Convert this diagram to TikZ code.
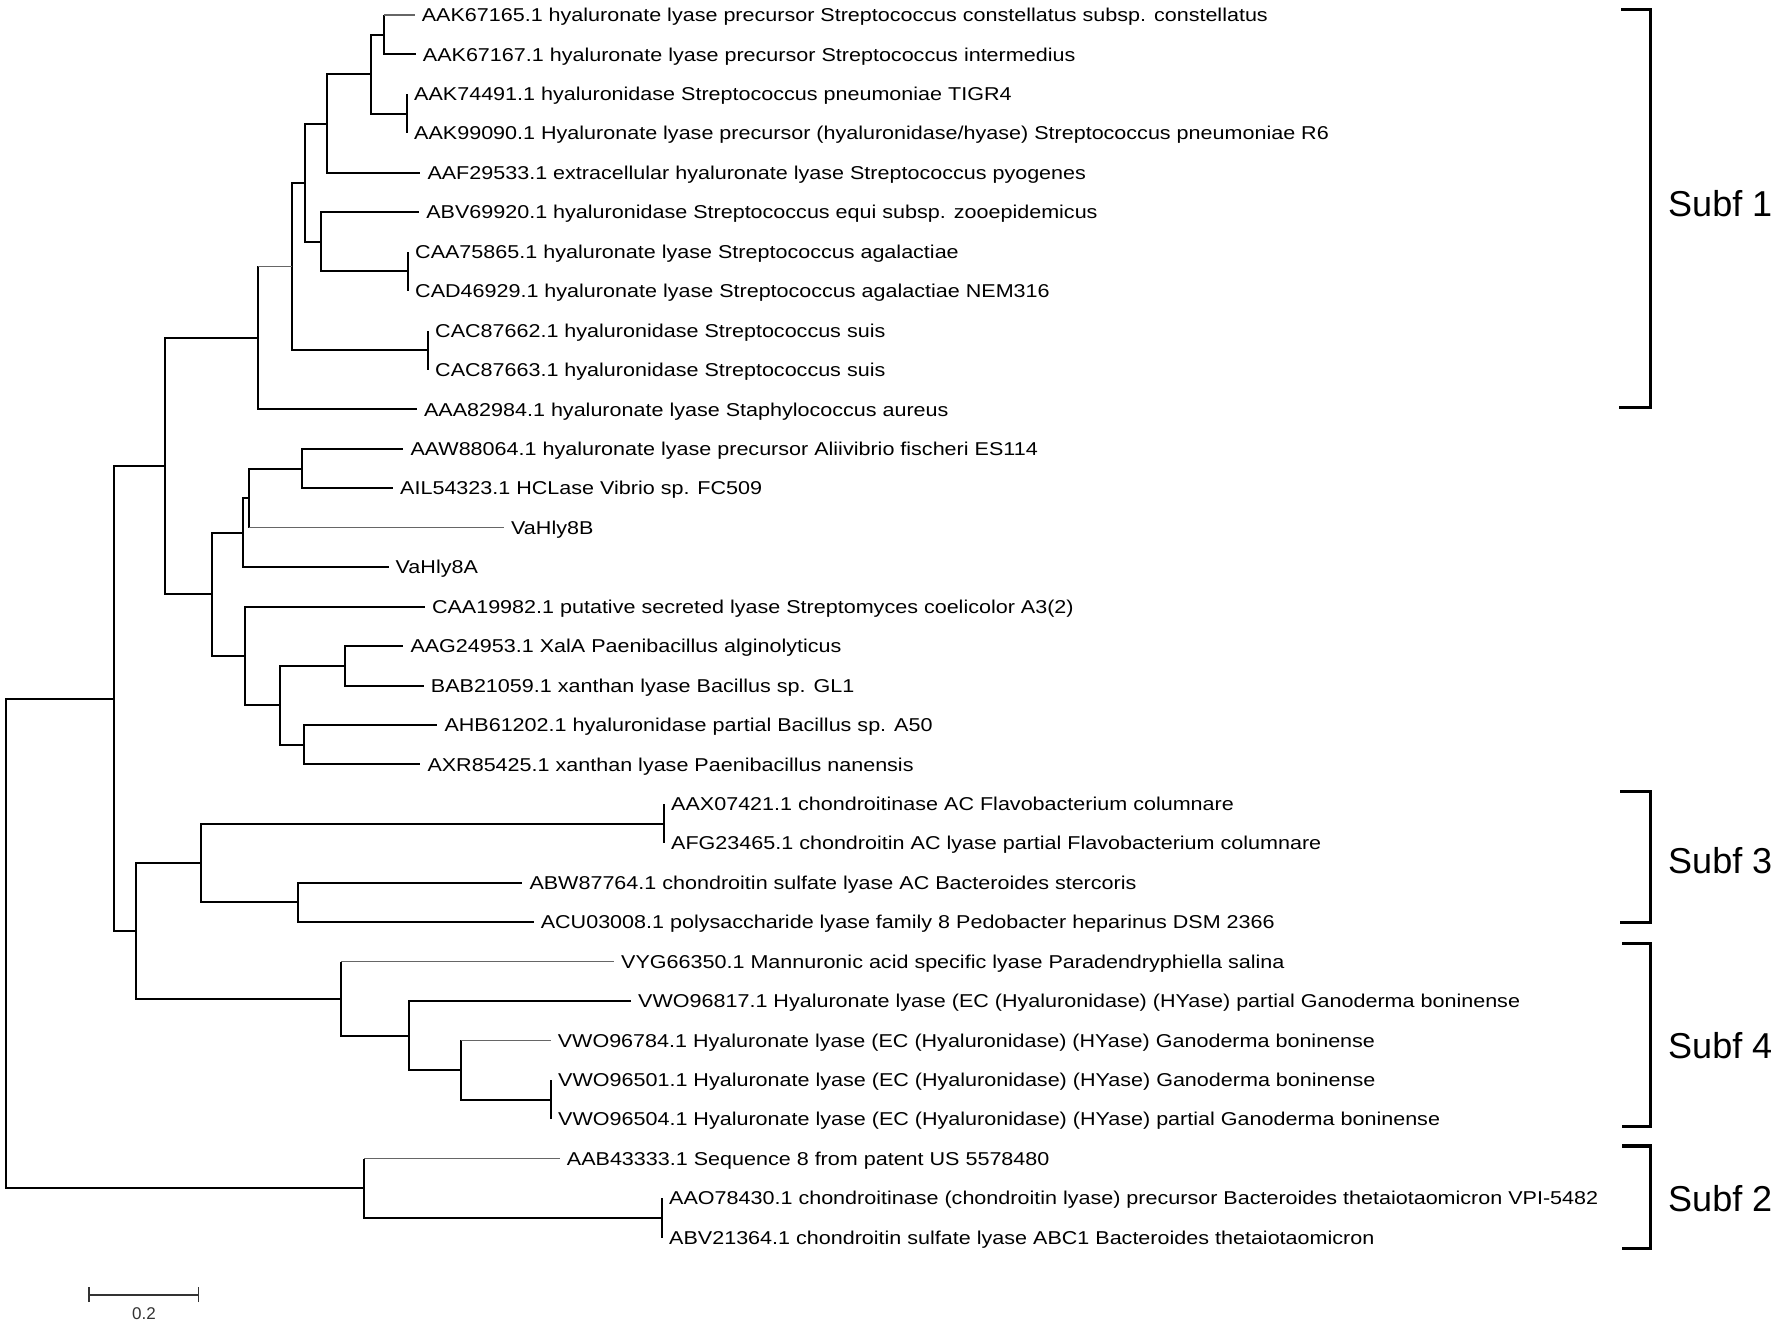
\documentclass[tikz,border=0pt]{standalone}
\usepackage{fontspec}
\setmainfont{Liberation Sans}
\newfontfamily\leaffont[FakeStretch=1.158]{Liberation Sans}
\begin{document}
\begin{tikzpicture}[x=1pt,y=-1pt,
  br/.style={line width=2pt, line join=miter, black},
  lt/.style={line width=1.3pt, black!60},
  leaf/.style={anchor=west, inner xsep=7pt, inner ysep=0pt, text height=13.3pt, text depth=0pt, font=\leaffont\fontsize{18.6}{20}\selectfont},
  brk/.style={line width=3.4pt, line join=miter, black},
  sublab/.style={anchor=west, inner sep=0pt, font=\fontsize{36}{40}\selectfont}
]
\useasboundingbox (0,0) rectangle (1777,1326);
% leaves
\node[leaf] (l1) at (414.6,15) {AAK67165.1 hyaluronate lyase precursor Streptococcus constellatus subsp. constellatus};
\node[leaf] (l2) at (415.7,54.4) {AAK67167.1 hyaluronate lyase precursor Streptococcus intermedius};
\node[leaf] (l3) at (407,93.9) {AAK74491.1 hyaluronidase Streptococcus pneumoniae TIGR4};
\node[leaf] (l4) at (407,133.3) {AAK99090.1 Hyaluronate lyase precursor (hyaluronidase/hyase) Streptococcus pneumoniae R6};
\node[leaf] (l5) at (420.3,172.8) {AAF29533.1 extracellular hyaluronate lyase Streptococcus pyogenes};
\node[leaf] (l6) at (419.1,212.2) {ABV69920.1 hyaluronidase Streptococcus equi subsp. zooepidemicus};
\node[leaf] (l7) at (408,251.6) {CAA75865.1 hyaluronate lyase Streptococcus agalactiae};
\node[leaf] (l8) at (408,291.1) {CAD46929.1 hyaluronate lyase Streptococcus agalactiae NEM316};
\node[leaf] (l9) at (428,330.5) {CAC87662.1 hyaluronidase Streptococcus suis};
\node[leaf] (l10) at (428,370.0) {CAC87663.1 hyaluronidase Streptococcus suis};
\node[leaf] (l11) at (416.9,409.4) {AAA82984.1 hyaluronate lyase Staphylococcus aureus};
\node[leaf] (l12) at (403.3,448.8) {AAW88064.1 hyaluronate lyase precursor Aliivibrio fischeri ES114};
\node[leaf] (l13) at (393,488.3) {AIL54323.1 HCLase Vibrio sp. FC509};
\node[leaf] (l14) at (504,527.7) {VaHly8B};
\node[leaf] (l15) at (388.5,567.2) {VaHly8A};
\node[leaf] (l16) at (424.8,606.6) {CAA19982.1 putative secreted lyase Streptomyces coelicolor A3(2)};
\node[leaf] (l17) at (403.3,646.0) {AAG24953.1 XalA Paenibacillus alginolyticus};
\node[leaf] (l18) at (423.7,685.5) {BAB21059.1 xanthan lyase Bacillus sp. GL1};
\node[leaf] (l19) at (437.3,724.9) {AHB61202.1 hyaluronidase partial Bacillus sp. A50};
\node[leaf] (l20) at (420.3,764.4) {AXR85425.1 xanthan lyase Paenibacillus nanensis};
\node[leaf] (l21) at (664,803.8) {AAX07421.1 chondroitinase AC Flavobacterium columnare};
\node[leaf] (l22) at (664,843.2) {AFG23465.1 chondroitin AC lyase partial Flavobacterium columnare};
\node[leaf] (l23) at (522.3,882.7) {ABW87764.1 chondroitin sulfate lyase AC Bacteroides stercoris};
\node[leaf] (l24) at (533.6,922.1) {ACU03008.1 polysaccharide lyase family 8 Pedobacter heparinus DSM 2366};
\node[leaf] (l25) at (614,961.6) {VYG66350.1 Mannuronic acid specific lyase Paradendryphiella salina};
\node[leaf] (l26) at (631,1001.0) {VWO96817.1 Hyaluronate lyase (EC (Hyaluronidase) (HYase) partial Ganoderma boninense};
\node[leaf] (l27) at (550.6,1040.4) {VWO96784.1 Hyaluronate lyase (EC (Hyaluronidase) (HYase) Ganoderma boninense};
\node[leaf] (l28) at (551,1079.9) {VWO96501.1 Hyaluronate lyase (EC (Hyaluronidase) (HYase) Ganoderma boninense};
\node[leaf] (l29) at (551,1119.3) {VWO96504.1 Hyaluronate lyase (EC (Hyaluronidase) (HYase) partial Ganoderma boninense};
\node[leaf] (l30) at (559.7,1158.8) {AAB43333.1 Sequence 8 from patent US 5578480};
\node[leaf] (l31) at (662,1198.2) {AAO78430.1 chondroitinase (chondroitin lyase) precursor Bacteroides thetaiotaomicron VPI-5482};
\node[leaf] (l32) at (662,1237.6) {ABV21364.1 chondroitin sulfate lyase ABC1 Bacteroides thetaiotaomicron};
% internal nodes
\coordinate (A) at (384,34.7);
\coordinate (P34) at (407,113.6);
\coordinate (B) at (370.7,74.2);
\coordinate (C) at (327.3,123.5);
\coordinate (P78) at (408,271.4);
\coordinate (E) at (321,241.8);
\coordinate (D) at (305,182.6);
\coordinate (P910) at (428,350.2);
\coordinate (F) at (291.7,266.4);
\coordinate (G) at (257.7,337.9);
\coordinate (M) at (301.7,468.5);
\coordinate (L) at (248.7,498.1);
\coordinate (K) at (243.3,532.6);
\coordinate (P1718) at (345,665.8);
\coordinate (Q) at (304,744.6);
\coordinate (O) at (280,705.2);
\coordinate (N) at (245.3,655.9);
\coordinate (J) at (212,594.3);
\coordinate (H) at (164.7,466.1);
\coordinate (P2122) at (664,823.5);
\coordinate (V) at (297.8,902.4);
\coordinate (U) at (200.9,863);
\coordinate (P2829) at (551,1099.6);
\coordinate (Y) at (460.7,1070);
\coordinate (X) at (408.9,1035.5);
\coordinate (W) at (341,998.6);
\coordinate (S) at (135.7,930.8);
\coordinate (I) at (114,698.5);
\coordinate (P3132) at (662,1217.9);
\coordinate (T) at (364.3,1188.4);
\coordinate (R) at (5.5,943.5);
% branches
\draw[br] (A) -- (A|-l1.west); \draw[lt] (A|-l1.west) -- (l1.west);
\draw[br] (A) |- (l2.west);
\draw[br] (P34) |- (l3.west); \draw[br] (P34) |- (l4.west);
\draw[br] (B) |- (A); \draw[br] (B) |- (P34);
\draw[br] (C) |- (B); \draw[br] (C) |- (l5.west);
\draw[br] (P78) |- (l7.west); \draw[br] (P78) |- (l8.west);
\draw[br] (E) |- (l6.west); \draw[br] (E) |- (P78);
\draw[br] (D) |- (C); \draw[br] (D) |- (E);
\draw[br] (P910) |- (l9.west); \draw[br] (P910) |- (l10.west);
\draw[br] (F) |- (D); \draw[br] (F) |- (P910);
\draw[br] (G) -- (G|-F); \draw[lt] (G|-F) -- (F);
\draw[br] (G) |- (l11.west);
\draw[br] (M) |- (l12.west); \draw[br] (M) |- (l13.west);
\draw[br] (L) |- (M);
\draw[br] (L) -- (L|-l14.west); \draw[lt] (L|-l14.west) -- (l14.west);
\draw[br] (K) |- (L); \draw[br] (K) |- (l15.west);
\draw[br] (P1718) |- (l17.west); \draw[br] (P1718) |- (l18.west);
\draw[br] (Q) |- (l19.west); \draw[br] (Q) |- (l20.west);
\draw[br] (O) |- (P1718); \draw[br] (O) |- (Q);
\draw[br] (N) |- (l16.west); \draw[br] (N) |- (O);
\draw[br] (J) |- (K); \draw[br] (J) |- (N);
\draw[br] (H) |- (G); \draw[br] (H) |- (J);
\draw[br] (P2122) |- (l21.west); \draw[br] (P2122) |- (l22.west);
\draw[br] (V) |- (l23.west); \draw[br] (V) |- (l24.west);
\draw[br] (U) |- (P2122); \draw[br] (U) |- (V);
\draw[br] (P2829) |- (l28.west); \draw[br] (P2829) |- (l29.west);
\draw[br] (Y) -- (Y|-l27.west); \draw[lt] (Y|-l27.west) -- (l27.west);
\draw[br] (Y) |- (P2829);
\draw[br] (X) |- (l26.west); \draw[br] (X) |- (Y);
\draw[br] (W) -- (W|-l25.west); \draw[lt] (W|-l25.west) -- (l25.west);
\draw[br] (W) |- (X);
\draw[br] (S) |- (U); \draw[br] (S) |- (W);
\draw[br] (I) |- (H); \draw[br] (I) |- (S);
\draw[br] (P3132) |- (l31.west); \draw[br] (P3132) |- (l32.west);
\draw[br] (T) -- (T|-l30.west); \draw[lt] (T|-l30.west) -- (l30.west);
\draw[br] (T) |- (P3132);
\draw[br] (R) |- (I); \draw[br] (R) |- (T);
% brackets
\draw[brk] (1621,9.3) -- (1650.7,9.3) -- (1650.7,407.3) -- (1619,407.3);
\node[sublab] (s1) at (1668,204) {Subf 1};
\draw[brk] (1620,791.7) -- (1650.7,791.7) -- (1650.7,922.7) -- (1620,922.7);
\node[sublab] (s3) at (1668,861) {Subf 3};
\draw[brk] (1622,943.3) -- (1650.7,943.3) -- (1650.7,1126.7) -- (1622,1126.7);
\node[sublab] (s4) at (1668,1046) {Subf 4};
\draw[brk] (1622,1146) -- (1650.7,1146) -- (1650.7,1248.3) -- (1622,1248.3);
\node[sublab] (s2) at (1668,1199) {Subf 2};
% scale bar
\coordinate (sb1) at (89,1295);
\coordinate (sb2) at (198.3,1295);
\draw[line width=1.5pt, black!80] (sb1) -- (sb2);
\draw[line width=1.5pt, black!80] ([yshift=-7pt]sb1) -- ([yshift=8pt]sb1);
\draw[line width=1.5pt, black!80] ([yshift=-7pt]sb2) -- ([yshift=8pt]sb2);
\node[inner sep=0pt, font=\fontsize{17}{18}\selectfont, text=black!80] (sbl) at (144,1314) {0.2};
\end{tikzpicture}
\end{document}
